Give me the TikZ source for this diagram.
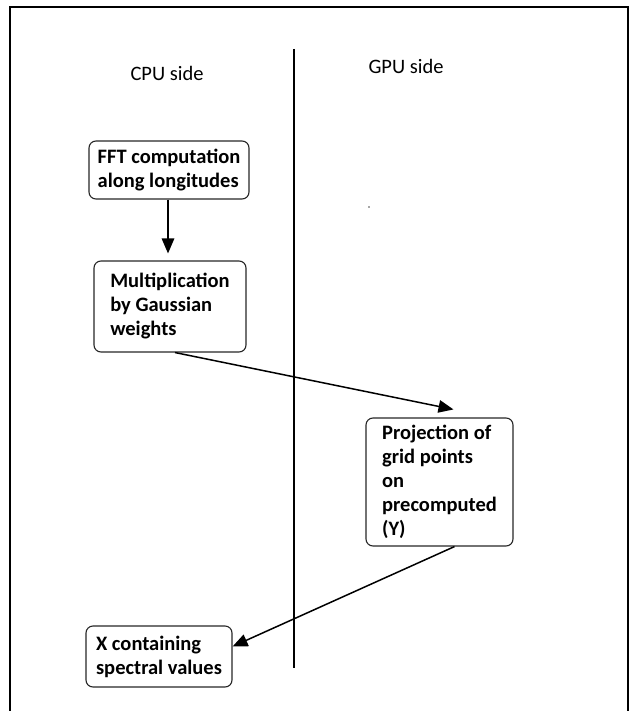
\documentclass[tikz,border=0pt]{standalone}
\usepackage{fontspec}
\setmainfont{Carlito}
\usetikzlibrary{arrows.meta}
\begin{document}
\begin{tikzpicture}[x=1pt,y=-1pt,
  box/.style={draw=black!85, line width=1.1pt, rounded corners=7pt, align=left,
    font=\fontsize{20.5}{24}\selectfont\bfseries, inner sep=0pt},
  lbl/.style={font=\fontsize{20.5}{24}\selectfont},
  arr/.style={line width=1.5pt, -{Triangle[length=15pt,width=12.5pt]}}]
\useasboundingbox (0,0) rectangle (630,711);
% frame
\draw[line width=2pt] (10,712) -- (10,7) -- (628,7) -- (628,712);
% divider
\coordinate (dtop) at (294,49);
\coordinate (dbot) at (294,668);
\draw[line width=2pt] (dtop) -- (dbot);
% headings
\node[lbl] (cpu) at (167,73) {CPU side};
\node[lbl] (gpu) at (406,66) {GPU side};
% stray dot
\fill[black!70] (369,207) circle (0.8pt);
% boxes
\node[box, minimum width=160pt, minimum height=58pt] (fft) at (169,170)
  {FFT computation\\along longitudes};
\node[box, minimum width=152pt, minimum height=91pt] (mult) at (170,306.5)
  {Multiplication\\by Gaussian\\weights};
\node[box, minimum width=147pt, minimum height=128pt] (proj) at (439.5,482)
  {Projection of\\grid points\\on\\precomputed\\(Y)};
\node[box, minimum width=146pt, minimum height=61pt] (xs) at (159,656.5)
  {X containing\\spectral values};
% connectors
\draw[arr] ([xshift=-1pt]fft.south) -- ([xshift=-1pt,yshift=7pt]fft.south |- mult.north);
\draw[arr] ([xshift=5pt]mult.south) -- ([xshift=14pt,yshift=8pt]proj.north);
\draw[arr] ([xshift=15pt]proj.south) -- ([yshift=10pt]xs.east);
\end{tikzpicture}
\end{document}
